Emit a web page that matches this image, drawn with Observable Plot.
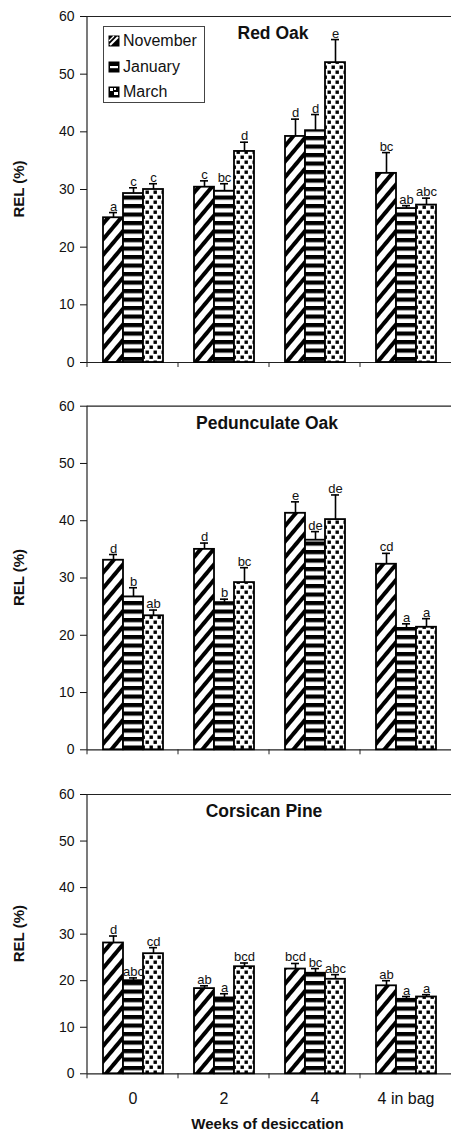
<!DOCTYPE html>
<html><head><meta charset="utf-8">
<script src="https://cdn.jsdelivr.net/npm/d3@7"></script>
<script src="https://cdn.jsdelivr.net/npm/@observablehq/plot@0.6"></script>
<style>
body{margin:0;background:#fff;font-family:"Liberation Sans",Arial,sans-serif;}
#chart{position:relative;width:451px;height:1133px;background:#fff;overflow:hidden;}
.panel{position:absolute;left:0;}
.legend{position:absolute;left:103px;top:26px;width:102px;height:77px;border:1px solid #444;box-sizing:border-box;background:#fff;font-size:16px;color:#111;}
.legend .row{position:absolute;left:4px;height:20px;display:flex;align-items:center;}
.legend svg{margin-right:3px;}
.xtitle{position:absolute;left:86px;width:363px;top:1115px;text-align:center;font-weight:bold;font-size:15px;color:#111;}
</style></head><body><div id="chart"></div>
<script>
const categories = ["0", "2", "4", "4 in bag"];
const months = ["November", "January", "March"];
const yTicks = [0, 10, 20, 30, 40, 50, 60];

// Red Oak
const redOakNovember = [25.1, 30.4, 39.2, 32.8];
const redOakJanuary  = [29.3, 29.7, 40.2, 26.7];
const redOakMarch    = [30.0, 36.6, 52.0, 27.3];
const redOakNovemberSE = [0.9, 1.1, 3.0, 3.6];
const redOakJanuarySE  = [1.0, 1.3, 2.8, 0.5];
const redOakMarchSE    = [1.0, 1.6, 4.0, 1.2];
const redOakNovemberLetters = ["a", "c", "d", "bc"];
const redOakJanuaryLetters  = ["c", "bc", "d", "ab"];
const redOakMarchLetters    = ["c", "d", "e", "abc"];

// Pedunculate Oak
const pedOakNovember = [33.1, 35.0, 41.3, 32.4];
const pedOakJanuary  = [26.7, 25.7, 36.6, 21.2];
const pedOakMarch    = [23.4, 29.2, 40.2, 21.4];
const pedOakNovemberSE = [1.0, 1.1, 2.0, 1.9];
const pedOakJanuarySE  = [1.6, 0.6, 1.5, 0.8];
const pedOakMarchSE    = [1.0, 2.6, 4.3, 1.5];
const pedOakNovemberLetters = ["d", "d", "e", "cd"];
const pedOakJanuaryLetters  = ["b", "b", "de", "a"];
const pedOakMarchLetters    = ["ab", "bc", "de", "a"];

// Corsican Pine
const pineNovember = [28.1, 18.3, 22.5, 18.9];
const pineJanuary  = [20.0, 16.3, 21.6, 16.0];
const pineMarch    = [25.8, 23.0, 20.3, 16.5];
const pineNovemberSE = [1.5, 0.6, 1.2, 1.1];
const pineJanuarySE  = [0.6, 0.9, 1.0, 0.6];
const pineMarchSE    = [1.3, 0.8, 1.0, 0.5];
const pineNovemberLetters = ["d", "ab", "bcd", "ab"];
const pineJanuaryLetters  = ["abc", "a", "bc", "a"];
const pineMarchLetters    = ["cd", "bcd", "abc", "a"];

const panels = [
  {name: "Red Oak", means: [redOakNovember, redOakJanuary, redOakMarch], se: [redOakNovemberSE, redOakJanuarySE, redOakMarchSE], letters: [redOakNovemberLetters, redOakJanuaryLetters, redOakMarchLetters], top: 0, height: 380, mt: 16, mb: 18, titleDx: 3.5, showX: false},
  {name: "Pedunculate Oak", means: [pedOakNovember, pedOakJanuary, pedOakMarch], se: [pedOakNovemberSE, pedOakJanuarySE, pedOakMarchSE], letters: [pedOakNovemberLetters, pedOakJanuaryLetters, pedOakMarchLetters], top: 380, height: 380, mt: 25.7, mb: 10.7, titleDx: -2.5, showX: false},
  {name: "Corsican Pine", means: [pineNovember, pineJanuary, pineMarch], se: [pineNovemberSE, pineJanuarySE, pineMarchSE], letters: [pineNovemberLetters, pineJanuaryLetters, pineMarchLetters], top: 760, height: 373, mt: 34, mb: 59.7, titleDx: -5.5, showX: true}
];

const font = '"Liberation Sans", Arial, sans-serif';
const root = document.getElementById("chart");

function addPatterns(svg, idx) {
  const defs = svg.insert("defs", ":first-child");
  const nov = defs.append("pattern").attr("id", `pat-${idx}-0`).attr("patternUnits", "userSpaceOnUse")
    .attr("width", 10).attr("height", 10).attr("patternTransform", "rotate(40)");
  nov.append("rect").attr("width", 10).attr("height", 10).attr("fill", "white");
  nov.append("rect").attr("width", 4).attr("height", 10).attr("fill", "black");
  const jan = defs.append("pattern").attr("id", `pat-${idx}-1`).attr("patternUnits", "userSpaceOnUse")
    .attr("width", 8).attr("height", 8.5);
  jan.append("rect").attr("width", 8).attr("height", 8.5).attr("fill", "white");
  jan.append("rect").attr("width", 8).attr("height", 4.2).attr("fill", "black");
  const mar = defs.append("pattern").attr("id", `pat-${idx}-2`).attr("patternUnits", "userSpaceOnUse")
    .attr("width", 8).attr("height", 10);
  mar.append("rect").attr("width", 8).attr("height", 10).attr("fill", "white");
  mar.append("rect").attr("x", 0.5).attr("y", 0.5).attr("width", 3.4).attr("height", 3.4).attr("fill", "black");
  mar.append("rect").attr("x", 4.5).attr("y", 5.5).attr("width", 3.4).attr("height", 3.4).attr("fill", "black");
}

panels.forEach((cfg, idx) => {
  const rows = [];
  categories.forEach((c, i) => months.forEach((m, j) => rows.push({
    cat: c, month: m, mean: cfg.means[j][i], top: cfg.means[j][i] + cfg.se[j][i], letter: cfg.letters[j][i]
  })));
  const chart = Plot.plot({
    width: 451, height: cfg.height,
    marginLeft: 86, marginRight: 0, marginTop: cfg.mt, marginBottom: cfg.mb,
    style: {fontFamily: font, fontSize: "14px", background: "white", overflow: "visible", color: "#111"},
    fx: {domain: categories, padding: 0, label: null, axis: cfg.showX ? "bottom" : null, tickSize: 0, tickPadding: 19},
    x: {domain: months, paddingInner: 0, paddingOuter: 0.7, axis: null},
    y: {domain: [0, 60], ticks: yTicks, tickSize: 7, tickPadding: 6, label: null},
    color: {domain: months, range: months.map((m, j) => `url(#pat-${idx}-${j})`)},
    marks: [
      Plot.ruleY([0, 60], {stroke: "#222", strokeWidth: 1.2}),
      Plot.barY(rows, {fx: "cat", x: "month", y: "mean", fill: "month", stroke: "black", strokeWidth: 1.8}),
      Plot.ruleX(rows, {fx: "cat", x: "month", y1: "mean", y2: "top", stroke: "black", strokeWidth: 1.6}),
      Plot.tickY(rows, {fx: "cat", x: "month", y: "top", stroke: "black", strokeWidth: 1.6, insetLeft: 6, insetRight: 6}),
      Plot.text(rows, {fx: "cat", x: "month", y: "top", text: "letter", lineAnchor: "bottom", dy: -2, fontSize: 13, fill: "#111"}),
      Plot.text([{cat: "4", t: cfg.name}], {fx: "cat", text: "t", frameAnchor: "top-left", dy: 17, dx: cfg.titleDx, textAnchor: "middle", lineAnchor: "middle", fontSize: 17.5, fontWeight: "bold", fill: "#111"})
    ]
  });
  chart.classList.add("panel");
  chart.style.top = cfg.top + "px";
  const svg = d3.select(chart);
  addPatterns(svg, idx);
  const y = chart.scale("y"), fx = chart.scale("fx");
  const y0 = y.apply(0), y60 = y.apply(60);
  const x0 = fx.apply(categories[0]);
  svg.append("line").attr("x1", x0).attr("x2", x0).attr("y1", y0).attr("y2", y60).attr("stroke", "#222").attr("stroke-width", 1.2);
  const bounds = categories.map(c => fx.apply(c));
  bounds.forEach(b => svg.append("line").attr("x1", b).attr("x2", b).attr("y1", y0).attr("y2", y0 + 5).attr("stroke", "#222").attr("stroke-width", 1));
  svg.append("text").attr("transform", `translate(19,${(y0 + y60) / 2}) rotate(-90)`)
    .attr("text-anchor", "middle").attr("dy", "0.35em").attr("font-weight", "bold").attr("font-size", 15)
    .attr("fill", "#111").text("REL (%)");
  svg.selectAll('g[aria-label="fx-axis tick label"]').attr("font-size", 16);
  root.appendChild(chart);
});

// Legend
const legend = document.createElement("div");
legend.className = "legend";
const swatches = [
  '<rect x="0.5" y="0.5" width="11" height="11" fill="black"/><path d="M2,10 L10,2" stroke="white" stroke-width="2.2"/><path d="M1,6 L6,1" stroke="white" stroke-width="1.2"/>',
  '<rect x="0.5" y="0.5" width="11" height="11" fill="black"/><rect x="2" y="5" width="8" height="2.2" fill="white"/>',
  '<rect x="0.5" y="0.5" width="11" height="11" fill="black"/><rect x="2" y="2" width="3" height="3" fill="white"/><rect x="6" y="6" width="4" height="3" fill="white"/><rect x="6" y="2" width="2" height="2" fill="white"/>'
];
months.forEach((m, j) => {
  const row = document.createElement("div");
  row.className = "row";
  row.style.top = (4 + j * 25.5) + "px";
  row.innerHTML = `<svg width="12" height="12">${swatches[j]}</svg><span>${m}</span>`;
  legend.appendChild(row);
});
root.appendChild(legend);

const xt = document.createElement("div");
xt.className = "xtitle";
xt.textContent = "Weeks of desiccation";
root.appendChild(xt);
</script></body></html>
